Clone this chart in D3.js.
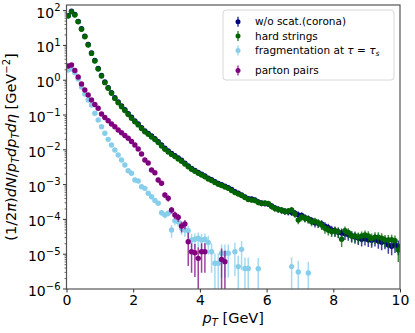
<!DOCTYPE html>
<html>
<head>
<meta charset="utf-8">
<script src="https://cdn.jsdelivr.net/npm/d3@7"></script>
<style>
  body { margin: 0; background: #fff; }
  text { font-family: "DejaVu Sans", sans-serif; fill: #000; }
</style>
</head>
<body>
<svg id="chart" width="415" height="333"></svg>
<script>
// pT bins, 0.1 GeV wide
const binWidth = 0.1;
const pTBins = d3.range(0.05, 10, binWidth);

// w/o scat.(corona)
const corona = [
  72, 96, 77, 49, 30, 18.3, 10.6, 6.1, 3.68, 2.18,
  1.37, 0.885, 0.61, 0.44, 0.315, 0.237, 0.182, 0.142, 0.109, 0.086,
  0.068, 0.055, 0.0435, 0.035, 0.0296, 0.0249, 0.021, 0.0172, 0.0137, 0.0111,
  0.0092, 0.0079, 0.0068, 0.0058, 0.005, 0.00415, 0.00346, 0.00292, 0.00256, 0.00224,
  0.002, 0.00178, 0.00154, 0.00139, 0.00122, 0.00108, 0.00099, 0.0009, 0.00082, 0.00072,
  0.00063, 0.00057, 0.000505, 0.000445, 0.000395, 0.000385, 0.00036, 0.00032, 0.000295, 0.000285,
  0.000275, 0.000245, 0.000215, 0.000198, 0.000182, 0.000172, 0.000165, 0.00016, 0.000152, 0.000135,
  0.00013, 0.000112, 0.000104, 0.0000935, 0.00008, 0.000077, 0.000074, 0.000064, 0.000058, 0.00005,
  0.000047, 0.000043, 0.000041, 0.000039, 0.000037, 0.000034, 0.000031, 0.000029, 0.000027, 0.000028,
  0.000026, 0.000025, 0.000027, 0.000024, 0.000022, 0.000023, 0.0000185, 0.000017, 0.000019, 0.000017
];
// hard strings
const hardStrings = [
  70, 93, 75, 48, 29, 17.8, 10.3, 5.9, 3.56, 2.1,
  1.32, 0.85, 0.585, 0.42, 0.3, 0.225, 0.173, 0.135, 0.103, 0.081,
  0.064, 0.052, 0.041, 0.033, 0.0279, 0.0234, 0.0198, 0.0162, 0.0129, 0.0104,
  0.00865, 0.00738, 0.00638, 0.00544, 0.0047, 0.0039, 0.00325, 0.00275, 0.00241, 0.00211,
  0.00189, 0.00168, 0.00145, 0.00131, 0.00115, 0.00102, 0.00094, 0.00085, 0.00078, 0.00068,
  0.00059, 0.000537, 0.000486, 0.000426, 0.000373, 0.00036, 0.000349, 0.000306, 0.000286, 0.000296,
  0.000286, 0.000235, 0.000206, 0.000192, 0.000186, 0.000169, 0.000175, 0.000186, 0.000143, 0.000096,
  0.000117, 0.000108, 0.000102, 0.000086, 0.000089, 0.00008, 0.000069, 0.0000555, 0.0000496, 0.000045,
  0.000046, 0.000044, 0.0000268, 0.000047, 0.000042, 0.0000333, 0.0000333, 0.000031, 0.0000333, 0.0000356,
  0.0000333, 0.0000283, 0.000031, 0.000031, 0.000029, 0.0000256, 0.0000256, 0.000026, 0.0000245, 0.0000132
];
// fragmentation at tau = tau_s
const fragmentation = [
  1.96, 2.1, 1.64, 1.08, 0.64, 0.4, 0.27, 0.194, 0.112, 0.0718,
  0.0461, 0.0298, 0.02, 0.0138, 0.00987, 0.0071, 0.0051, 0.00366, 0.00251, 0.00211,
  0.00136, 0.00127, 0.00087, 0.00078, 0.000562, 0.000449, 0.000349, 0.00029, 0.000156, 0.000134,
  0.00015, 0.0000495, 0.000092, 0.000086, 0.0000555, 0.0000495, 0.0000473, 0.0000256, 0.0000268, 0.0000286,
  0.0000256, 0.0000268, 0.0000217, 0.0000118, 0.0000055, 0.0000055, 0.0000106, 0.0000106, 0.0000106, null,
  0.0000118, 0.0000044, 0.0000138, 0.0000039, 0.0000039, null, null, 0.0000038, null, null,
  null, null, null, null, null, null, null, 0.0000044, null, 0.0000031,
  null, null, 0.0000029
];
// parton pairs
const partonPairs = [
  2.56, 2.73, 1.9, 1.24, 0.78, 0.523, 0.376, 0.27, 0.2, 0.156,
  0.107, 0.0848, 0.0686, 0.0551, 0.0461, 0.0371, 0.031, 0.0258, 0.0214, 0.0173,
  0.0138, 0.0105, 0.00757, 0.0051, 0.00418, 0.00263, 0.0022, 0.00136, 0.00109, 0.000502,
  0.000404, 0.000186, 0.000134, 0.000115, 0.0000646, 0.000074, 0.0000229, 0.0000118, 0.000011, 0.0000076,
  0.0000118, 0.0000118, null, null, null, null, 0.0000071, 0.0000061
];

// relative errors
const coronaErr = [
  0.01, 0.01, 0.01, 0.01, 0.01, 0.01, 0.01, 0.01, 0.01, 0.01,
  0.01, 0.01, 0.015, 0.015, 0.015, 0.02, 0.02, 0.02, 0.02, 0.025,
  0.025, 0.03, 0.03, 0.03, 0.035, 0.035, 0.04, 0.04, 0.045, 0.05,
  0.05, 0.055, 0.06, 0.06, 0.065, 0.07, 0.07, 0.075, 0.08, 0.08,
  0.085, 0.09, 0.09, 0.1, 0.1, 0.11, 0.11, 0.12, 0.12, 0.13,
  0.13, 0.14, 0.14, 0.15, 0.15, 0.16, 0.16, 0.17, 0.17, 0.18,
  0.18, 0.19, 0.2, 0.2, 0.21, 0.21, 0.22, 0.22, 0.23, 0.24,
  0.24, 0.25, 0.25, 0.26, 0.27, 0.27, 0.28, 0.29, 0.3, 0.31,
  0.32, 0.33, 0.33, 0.34, 0.34, 0.35, 0.36, 0.37, 0.38, 0.37,
  0.38, 0.39, 0.38, 0.4, 0.41, 0.4, 0.44, 0.45, 0.43, 0.45
];
const hardErr = [
  0.01, 0.01, 0.01, 0.01, 0.01, 0.01, 0.01, 0.01, 0.01, 0.01,
  0.01, 0.01, 0.015, 0.015, 0.015, 0.02, 0.02, 0.02, 0.02, 0.025,
  0.025, 0.03, 0.03, 0.03, 0.035, 0.035, 0.04, 0.04, 0.045, 0.05,
  0.05, 0.055, 0.06, 0.06, 0.065, 0.07, 0.07, 0.075, 0.08, 0.08,
  0.085, 0.09, 0.09, 0.1, 0.1, 0.11, 0.11, 0.12, 0.12, 0.13,
  0.13, 0.14, 0.14, 0.15, 0.15, 0.16, 0.16, 0.17, 0.17, 0.18,
  0.18, 0.19, 0.2, 0.2, 0.21, 0.21, 0.22, 0.22, 0.23, 0.25,
  0.24, 0.25, 0.25, 0.26, 0.26, 0.27, 0.28, 0.3, 0.3, 0.31,
  0.31, 0.32, 0.4, 0.32, 0.33, 0.35, 0.35, 0.36, 0.35, 0.35,
  0.36, 0.38, 0.37, 0.37, 0.38, 0.4, 0.4, 0.4, 0.41, 0.55
];
const fragErr = [
  0.01, 0.01, 0.01, 0.01, 0.01, 0.01, 0.01, 0.01, 0.015, 0.015,
  0.02, 0.02, 0.025, 0.025, 0.03, 0.03, 0.035, 0.04, 0.045, 0.05,
  0.06, 0.065, 0.08, 0.08, 0.1, 0.11, 0.12, 0.13, 0.18, 0.2,
  0.19, 0.4, 0.27, 0.28, 0.35, 0.37, 0.38, 0.5, 0.48, 0.47,
  0.5, 0.48, 0.55, 0.75, 0.9, 0.9, 0.8, 0.8, 0.8, null,
  0.8, 1.05, 0.75, 1.05, 1.05, null, null, 1.05, null, null,
  null, null, null, null, null, null, null, 0.85, null, 1.05,
  null, null, 1.05
];
const pairsErr = [
  0.01, 0.01, 0.01, 0.01, 0.01, 0.01, 0.01, 0.01, 0.01, 0.01,
  0.015, 0.015, 0.02, 0.02, 0.025, 0.03, 0.03, 0.035, 0.04, 0.045,
  0.05, 0.06, 0.07, 0.08, 0.09, 0.11, 0.12, 0.15, 0.17, 0.17,
  0.2, 0.22, 0.25, 0.25, 0.35, 0.3, 0.8, 0.75, 0.8, 1.05,
  0.75, 0.75, null, null, null, null, 1.05, 1.05
];

const seriesNames = ["w/o scat.(corona)", "hard strings", "fragmentation at τ = τs", "parton pairs"];
const seriesColors = ["#000080", "#006400", "#87ceeb", "#800080"];
const seriesValues = [corona, hardStrings, fragmentation, partonPairs];
const seriesErrors = [coronaErr, hardErr, fragErr, pairsErr];

const xTicks = [0, 2, 4, 6, 8, 10];
const yExponents = [-6, -5, -4, -3, -2, -1, 0, 1, 2];

const svg = d3.select("#chart");
const plotLeft = 66.5, plotRight = 400, plotTop = 5, plotBottom = 289;

const x = d3.scaleLinear().domain([0, 10]).range([plotLeft, plotRight]);
const y = d3.scaleLog().domain([1e-6, 145]).range([plotBottom, plotTop]);

svg.append("defs").append("clipPath").attr("id", "clip")
  .append("rect")
  .attr("x", plotLeft).attr("y", plotTop)
  .attr("width", plotRight - plotLeft).attr("height", plotBottom - plotTop);

const plot = svg.append("g").attr("clip-path", "url(#clip)");

for (let s = 0; s < seriesValues.length; s++) {
  const pts = [];
  seriesValues[s].forEach((v, i) => {
    if (v == null) return;
    pts.push({ pT: pTBins[i], v: v, e: v * seriesErrors[s][i] });
  });
  const g = plot.append("g");
  g.selectAll("line").data(pts).enter().append("line")
    .attr("x1", d => x(d.pT)).attr("x2", d => x(d.pT))
    .attr("y1", d => y(d.v + d.e))
    .attr("y2", d => d.v - d.e > 0 ? y(d.v - d.e) : plotBottom + 5)
    .attr("stroke", seriesColors[s])
    .attr("stroke-width", 1.5)
    .attr("stroke-opacity", 0.75);
  g.selectAll("circle").data(pts).enter().append("circle")
    .attr("cx", d => x(d.pT)).attr("cy", d => y(d.v))
    .attr("r", 2.7)
    .attr("fill", seriesColors[s]);
}

// frame
svg.append("rect")
  .attr("x", plotLeft).attr("y", plotTop)
  .attr("width", plotRight - plotLeft).attr("height", plotBottom - plotTop)
  .attr("fill", "none").attr("stroke", "#555").attr("stroke-width", 1.2);

// x axis
const xAxis = svg.append("g")
  .attr("transform", `translate(0,${plotBottom})`)
  .call(d3.axisBottom(x).tickValues(xTicks).tickSize(3.5).tickPadding(3).tickFormat(d3.format("d")));
xAxis.select(".domain").remove();
xAxis.selectAll(".tick line").attr("stroke", "#333").attr("stroke-width", 1);
xAxis.selectAll(".tick text").attr("font-size", 14).attr("font-family", "DejaVu Sans").attr("fill", "#000");

// y axis: minor ticks then major ticks with 10^n labels
const minorVals = y.ticks().filter(v => Math.abs(Math.log10(v) - Math.round(Math.log10(v))) > 1e-6);
const yAxis = svg.append("g");
yAxis.selectAll("line.minor").data(minorVals).enter().append("line")
  .attr("class", "minor")
  .attr("x1", plotLeft - 2).attr("x2", plotLeft)
  .attr("y1", d => y(d)).attr("y2", d => y(d))
  .attr("stroke", "#333").attr("stroke-width", 0.7);
yAxis.selectAll("line.major").data(yExponents).enter().append("line")
  .attr("class", "major")
  .attr("x1", plotLeft - 3.5).attr("x2", plotLeft)
  .attr("y1", d => y(Math.pow(10, d))).attr("y2", d => y(Math.pow(10, d)))
  .attr("stroke", "#333").attr("stroke-width", 1);
const yLabels = yAxis.selectAll("text").data(yExponents).enter().append("text")
  .attr("x", plotLeft - 6)
  .attr("y", d => y(Math.pow(10, d)) + 7)
  .attr("text-anchor", "end")
  .attr("font-size", 14);
yLabels.append("tspan").text("10");
yLabels.append("tspan")
  .attr("dy", -6.5).attr("font-size", 10)
  .text(d => d < 0 ? "\u2212" + (-d) : String(d));

// x label
const xLab = svg.append("text")
  .attr("x", (plotLeft + plotRight) / 2)
  .attr("y", 323)
  .attr("text-anchor", "middle")
  .attr("font-size", 14.5);
xLab.append("tspan").attr("font-style", "italic").text("p");
xLab.append("tspan").attr("font-style", "italic").attr("font-size", 10).attr("dy", 3).text("T");
xLab.append("tspan").attr("dy", -3).text(" [GeV]");

// y label
const yLab = svg.append("text")
  .attr("transform", `translate(16,${(plotTop + plotBottom) / 2}) rotate(-90)`)
  .attr("text-anchor", "middle")
  .attr("font-size", 14.5);
const yParts = [
  ["(1/2", "n", 0], ["π", "i", 0], [")", "n", 0], ["dN", "i", 0], ["/", "n", 0],
  ["p", "i", 0], ["T", "s", 3], ["dp", "i", -3], ["T", "s", 3], ["dη", "i", -3],
  [" [GeV", "n", 0], ["\u22122", "u", -6], ["]", "n", 6]
];
yParts.forEach(p => {
  const t = yLab.append("tspan").text(p[0]);
  if (p[1] === "i" || p[1] === "s") t.attr("font-style", "italic");
  if (p[1] === "s" || p[1] === "u") t.attr("font-size", 10);
  if (p[2] !== 0) t.attr("dy", p[2]);
});

// legend
const legend = svg.append("g");
legend.append("rect")
  .attr("x", 223).attr("y", 10).attr("width", 171).attr("height", 70)
  .attr("rx", 3)
  .attr("fill", "#fff").attr("fill-opacity", 0.85)
  .attr("stroke", "#d8d8d8").attr("stroke-width", 1);
const legendRows = [21.7, 36, 50.5, 70.5];
seriesNames.forEach((name, i) => {
  const row = legend.append("g").attr("transform", `translate(0,${legendRows[i]})`);
  row.append("line")
    .attr("x1", 238).attr("x2", 238).attr("y1", -5).attr("y2", 5)
    .attr("stroke", seriesColors[i]).attr("stroke-width", 1.5).attr("stroke-opacity", 0.75);
  row.append("circle").attr("cx", 238).attr("cy", 0).attr("r", 2.5).attr("fill", seriesColors[i]);
  const t = row.append("text").attr("x", 255).attr("y", 3.7).attr("font-size", 10.5);
  if (i === 2) {
    t.append("tspan").text("fragmentation at ");
    t.append("tspan").attr("font-style", "italic").text("τ");
    t.append("tspan").text(" = ");
    t.append("tspan").attr("font-style", "italic").text("τ");
    t.append("tspan").attr("font-style", "italic").attr("font-size", 7.5).attr("dy", 2).text("s");
  } else {
    t.text(name);
  }
});
</script>
</body>
</html>
